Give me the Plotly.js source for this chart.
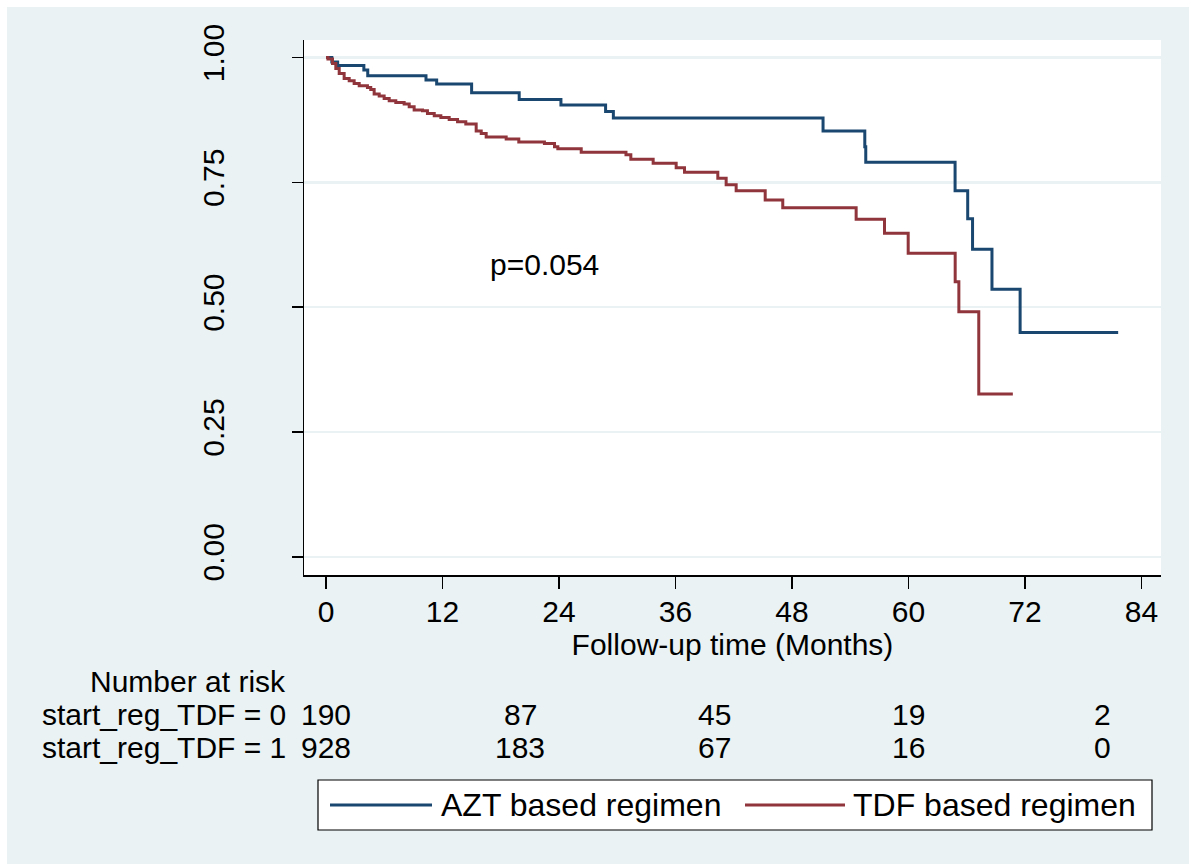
<!DOCTYPE html>
<html>
<head>
<meta charset="utf-8">
<script src="https://cdn.plot.ly/plotly-3.0.1.min.js"></script>
<style>
html,body{margin:0;padding:0;background:#ffffff;}
#chart{position:absolute;left:7px;top:7px;width:1182px;height:857px;}
</style>
</head>
<body>
<div id="chart"></div>
<script>
// Kaplan-Meier step data (time in months, survival probability)
const aztTime = [0, 0.6, 1.2, 3.9, 4.3, 10.3, 11.4, 15.0, 19.9, 24.2, 28.8, 29.6, 51.2, 55.5, 55.6, 64.8, 66.1, 66.6, 68.6, 71.5, 81.6];
const aztSurv = [1.0, 0.991, 0.984, 0.975, 0.9635, 0.955, 0.947, 0.9295, 0.916, 0.905, 0.892, 0.879, 0.853, 0.821, 0.790, 0.733, 0.677, 0.616, 0.536, 0.449, 0.449];

const tdfTime = [0, 0.2, 0.67, 1.01, 1.36, 1.87, 2.39, 2.9, 3.42, 4.27, 4.61, 4.96, 5.48, 5.99, 6.51, 7.19, 8.05, 8.57, 9.08, 9.94, 10.45, 11.15, 11.83, 12.69, 13.55, 14.4, 15.47, 15.99, 16.5, 18.56, 19.86, 22.5, 23.54, 23.88, 26.29, 30.9, 31.4, 33.7, 36.07, 36.93, 40.36, 41.22, 42.25, 45.24, 47.05, 54.61, 57.53, 59.97, 64.81, 65.19, 67.24, 70.75];
const tdfSurv = [1.0, 0.997, 0.988, 0.978, 0.968, 0.958, 0.9535, 0.948, 0.9435, 0.940, 0.936, 0.927, 0.923, 0.918, 0.9135, 0.910, 0.907, 0.9015, 0.895, 0.8935, 0.888, 0.8835, 0.880, 0.876, 0.8715, 0.867, 0.853, 0.848, 0.841, 0.837, 0.831, 0.828, 0.821, 0.817, 0.810, 0.805, 0.796, 0.788, 0.779, 0.770, 0.758, 0.745, 0.733, 0.7146, 0.699, 0.676, 0.648, 0.608, 0.551, 0.491, 0.326, 0.326];

const seriesNames = ["AZT based regimen", "TDF based regimen"];
const xTicks = [0, 12, 24, 36, 48, 60, 72, 84];
const yTicks = [0, 0.25, 0.5, 0.75, 1.0];
const yTickText = ["0.00", "0.25", "0.50", "0.75", "1.00"];

const riskTimes = [0, 20, 40, 60, 80];
const riskRowLabels = ["start_reg_TDF = 0", "start_reg_TDF = 1"];
const riskAZT = [190, 87, 45, 19, 2];
const riskTDF = [928, 183, 67, 16, 0];
const pValueText = "p=0.054";

const BLUE = "#1a476f", RED = "#90353b", BG = "#eaf2f3";
const FONT = "Liberation Sans, Arial, sans-serif";
const FS = 30;
const LFS = 32;

const traces = [
  {x: aztTime, y: aztSurv, type: "scatter", mode: "lines", line: {shape: "hv", color: BLUE, width: 3}, name: seriesNames[0], showlegend: false},
  {x: tdfTime, y: tdfSurv, type: "scatter", mode: "lines", line: {shape: "hv", color: RED, width: 3}, name: seriesNames[1], showlegend: false}
];

// plot area in page px: left 304, right 1161, top 40, bottom 575
const L = 304, R = 1161, T = 40, B = 575;
const px2x = p => (p - L) / (R - L);
const py2y = p => (B - p) / (B - T);

const annotations = [];
annotations.push({x: 16.7, y: 0.586, xref: "x", yref: "y", text: pValueText, showarrow: false, xanchor: "left", yanchor: "middle", font: {family: FONT, size: FS, color: "#000"}});
annotations.push({x: px2x(288), y: py2y(681), xref: "paper", yref: "paper", text: "Number at risk", showarrow: false, xanchor: "right", yanchor: "middle", font: {family: FONT, size: FS, color: "#000"}});
const rowY = [py2y(714), py2y(747)];
const rowVals = [riskAZT, riskTDF];
for (let r = 0; r < 2; r++) {
  annotations.push({x: px2x(288), y: rowY[r], xref: "paper", yref: "paper", text: riskRowLabels[r], showarrow: false, xanchor: "right", yanchor: "middle", font: {family: FONT, size: FS, color: "#000"}});
  for (let i = 0; i < riskTimes.length; i++) {
    annotations.push({x: riskTimes[i], y: rowY[r], xref: "x", yref: "paper", text: String(rowVals[r][i]), showarrow: false, xanchor: "center", yanchor: "middle", font: {family: FONT, size: FS, color: "#000"}});
  }
}
// legend
const legY = py2y(805);
annotations.push({x: px2x(439), y: legY, xref: "paper", yref: "paper", text: seriesNames[0], showarrow: false, xanchor: "left", yanchor: "middle", font: {family: FONT, size: LFS, color: "#000"}});
annotations.push({x: px2x(851), y: legY, xref: "paper", yref: "paper", text: seriesNames[1], showarrow: false, xanchor: "left", yanchor: "middle", font: {family: FONT, size: LFS, color: "#000"}});

const shapes = [
  {type: "rect", xref: "paper", yref: "paper", x0: px2x(318), x1: px2x(1152), y0: py2y(830), y1: py2y(780), line: {color: "#000", width: 1.2}, fillcolor: "#fff", layer: "below"},
  {type: "line", xref: "paper", yref: "paper", x0: px2x(330), x1: px2x(432), y0: legY, y1: legY, line: {color: BLUE, width: 3}},
  {type: "line", xref: "paper", yref: "paper", x0: px2x(745), x1: px2x(845), y0: legY, y1: legY, line: {color: RED, width: 3}}
];

const layout = {
  width: 1182, height: 857,
  margin: {l: L - 7, r: 1189 - R, t: T - 7, b: 864 - B, pad: 0},
  paper_bgcolor: BG, plot_bgcolor: "#ffffff",
  showlegend: false,
  hovermode: false,
  font: {family: FONT, size: FS, color: "#000"},
  xaxis: {
    range: [(L - 326) / 9.708, (R - 326) / 9.708],
    tickvals: xTicks, ticktext: xTicks.map(String),
    ticks: "outside", ticklen: 12, tickwidth: 1.5, tickcolor: "#000",
    ticklabelstandoff: -3,
    showline: true, linecolor: "#000", linewidth: 1.5,
    showgrid: false, zeroline: false,
    tickfont: {family: FONT, size: FS, color: "#000"},
    title: {text: "Follow-up time (Months)", font: {family: FONT, size: FS, color: "#000"}, standoff: 0}
  },
  yaxis: {
    range: [(556.8 - B) / 499.3, (556.8 - T) / 499.3],
    tickvals: yTicks, ticktext: yTickText,
    ticks: "outside", ticklen: 11, tickwidth: 1.5, tickcolor: "#000",
    tickangle: -90, ticklabelstandoff: 56,
    showline: true, linecolor: "#000", linewidth: 1.5,
    showgrid: true, gridcolor: BG, gridwidth: 2.5, zeroline: false,
    tickfont: {family: FONT, size: FS, color: "#000"}
  },
  annotations: annotations,
  shapes: shapes
};

Plotly.newPlot("chart", traces, layout, {displayModeBar: false, staticPlot: true});
</script>
</body>
</html>
